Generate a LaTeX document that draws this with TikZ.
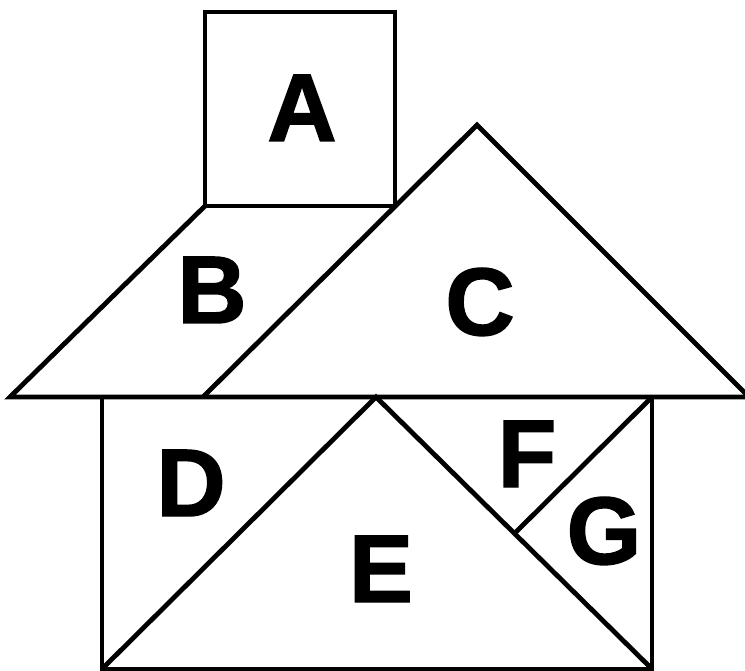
\documentclass[tikz,border=0pt]{standalone}
\usepackage{fontspec}
\setmainfont{Liberation Sans}
\newfontfamily\heavyfont[UprightFont={* Bold},UprightFeatures={FakeBold=1.5}]{Liberation Sans}
\begin{document}
\begin{tikzpicture}[x=1pt,y=-1pt,
  edge/.style={line width=4.8pt,line join=miter,black},
  letter/.style={inner sep=0pt,anchor=base,font=\heavyfont\fontsize{96}{96}\selectfont}]
\useasboundingbox (0,0) rectangle (745,671);
\clip (0,0) rectangle (745,671);
% vertices
\coordinate (sqTL) at (205,12);
\coordinate (sqTR) at (395,12);
\coordinate (sqBL) at (205,206);
\coordinate (sqBR) at (395,206);
\coordinate (bL) at (10,397);
\coordinate (bR) at (203,397);
\coordinate (apex) at (477,125);
\coordinate (cR) at (749,397);
\coordinate (rTL) at (102,397);
\coordinate (rTR) at (652,397);
\coordinate (rBL) at (102,669);
\coordinate (rBR) at (652,669);
\coordinate (eTop) at (376,397);
\coordinate (fg) at (515,533);
% shapes
\draw[edge] (sqBL) -- (sqTL) -- (sqTR) -- (sqBR);
\draw[edge] (sqBL) -- (sqBR);
\draw[edge] (sqBL) -- (bL) -- (cR);
\draw[edge] (bR) -- (apex) -- (cR);
\draw[edge] (rTL) -- (rBL) -- (rBR) -- (rTR);
\draw[edge] (rBL) -- (eTop) -- (rBR);
\draw[edge] (rTR) -- (fg);
% labels
\node[letter] (A) at (302,141) {A};
\node[letter] (B) at (212,323) {B};
\node[letter] (C) at (480,335) {C};
\node[letter] (D) at (191,516) {D};
\node[letter] (E) at (381,602) {E};
\node[letter] (F) at (527,487) {F};
\node[letter] (G) at (604,564) {G};
\end{tikzpicture}
\end{document}
